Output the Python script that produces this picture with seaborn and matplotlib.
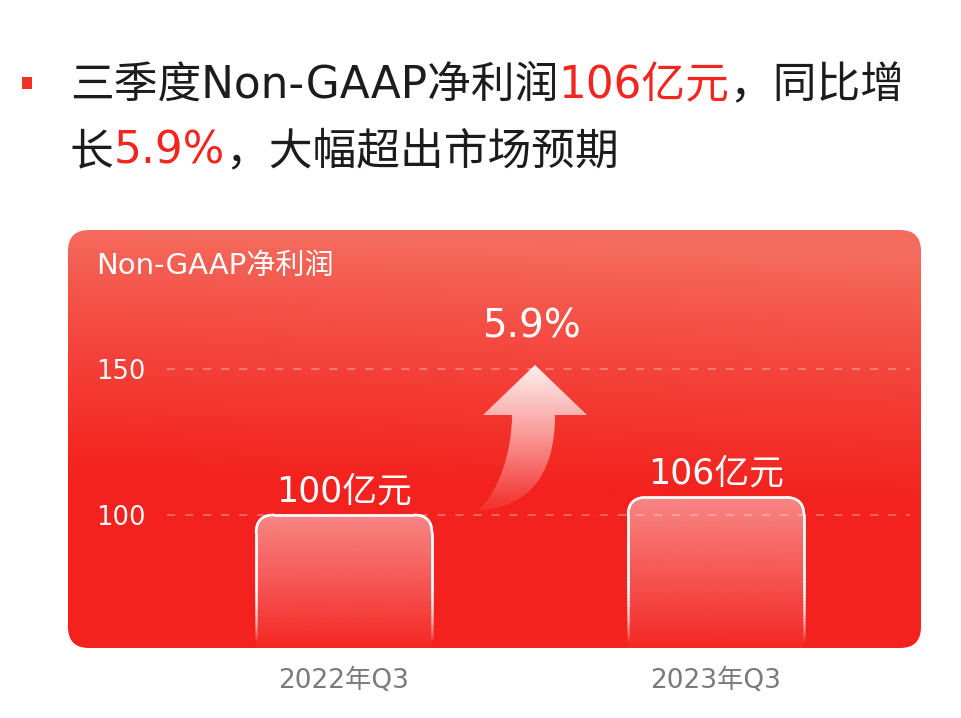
import numpy as np
import pandas as pd
import matplotlib
matplotlib.use("Agg")
import matplotlib.pyplot as plt
import seaborn as sns
from matplotlib.patches import FancyBboxPatch, PathPatch, Rectangle
from matplotlib.path import Path
from matplotlib.collections import LineCollection
from matplotlib.transforms import IdentityTransform

# ---------------- data ----------------
quarters = ["2022年Q3", "2023年Q3"]
profits = [100, 106]
value_labels = ["100亿元", "106亿元"]
y_ticks = [100, 150]
growth_label = "5.9%"
panel_title = "Non-GAAP净利润"
headline_1 = [("三季度Non-GAAP净利润", "dark"), ("106亿元", "red"), ("，同比增", "dark")]
headline_2 = [("长", "dark"), ("5.9%", "red"), ("，大幅超出市场预期", "dark")]

# ---------------- style ----------------
W, H, DPI = 962, 718, 100
FAM = ["DejaVu Sans", "Noto Sans CJK SC"]
sns.set_style("white")
plt.rcParams["font.family"] = FAM
DARK = "#1c1c1c"
RED = "#f2261e"
COLORS = {"dark": DARK, "red": RED}

fig = plt.figure(figsize=(W / DPI, H / DPI), dpi=DPI)
fig.patch.set_facecolor("white")

# panel geometry (pixels)
PL, PR, PT, PB = 68, 921, 230, 648
rect = [PL / W, 1 - PB / H, (PR - PL) / W, (PB - PT) / H]

# ---------------- background panel with gradient ----------------
bg = fig.add_axes(rect, zorder=0)
bg.set_axis_off()
ny, nx = 300, 300
yy, xx = np.mgrid[0:1:ny * 1j, 0:1:nx * 1j]
s = np.clip((yy - 0.07 * xx) / 0.58, 0, 1) ** 0.85
top_c = np.array([245, 108, 94]) / 255
bot_c = np.array([243, 34, 30]) / 255
img = top_c[None, None, :] * (1 - s[..., None]) + bot_c[None, None, :] * s[..., None]
im = bg.imshow(img, extent=(0, 1, 0, 1), origin="upper", aspect="auto",
               interpolation="bilinear")
bg.set_xlim(0, 1)
bg.set_ylim(0, 1)
panel = FancyBboxPatch((PL / DPI, (H - PB) / DPI), (PR - PL) / DPI, (PB - PT) / DPI,
                       boxstyle="round,pad=0,rounding_size=0.21",
                       transform=fig.dpi_scale_trans, facecolor="none", edgecolor="none")
im.set_clip_path(panel)

# ---------------- main axes ----------------
ax = fig.add_axes(rect, zorder=1)
ax.patch.set_alpha(0)
df = pd.DataFrame({"quarter": quarters, "profit": profits})
sns.barplot(data=df, x="quarter", y="profit", ax=ax, width=0.473, color="white")
XLIM = (-0.742, 1.551)
YLIM = (54.4, 197.6)
ax.set_xlim(*XLIM)
ax.set_ylim(*YLIM)
for sp in ax.spines.values():
    sp.set_visible(False)
ax.set_xlabel("")
ax.set_ylabel("")

sx = ax.transData.transform((1, 0))[0] - ax.transData.transform((0, 0))[0]
sy = ax.transData.transform((0, 1))[1] - ax.transData.transform((0, 0))[1]

# gridlines
for t in y_ticks:
    ax.axhline(t, xmin=(167 - PL) / (PR - PL), xmax=(910 - PL) / (PR - PL),
               color="white", alpha=0.38, lw=1.1, ls=(0, (5.3, 6.5)), zorder=1.5)

# ticks
ax.set_yticks(y_ticks)
ax.set_yticklabels([str(t) for t in y_ticks])
ax.tick_params(axis="y", length=0, pad=-20.2, labelcolor="white", labelsize=18.5)
for lab in ax.get_yticklabels():
    lab.set_horizontalalignment("left")
ax.tick_params(axis="x", length=0, pad=14.5, labelcolor="#7a7a7a", labelsize=19)


def resample(poly, step=1.5):
    out = [poly[0]]
    for a, b in zip(poly[:-1], poly[1:]):
        d = np.hypot(*(b - a))
        k = max(1, int(np.ceil(d / step)))
        for j in range(1, k + 1):
            out.append(a + (b - a) * j / k)
    return np.array(out)


# rounded bars with gradient fill and fading outline
bottom_disp = ax.transData.transform((0, YLIM[0]))[1]
for bar, lab in zip(list(ax.patches), value_labels):
    x0, w, h = bar.get_x(), bar.get_width(), bar.get_height()
    bar.set_visible(False)
    ybase = YLIM[0] - 20
    rb = FancyBboxPatch((x0, ybase), w, h - ybase,
                        boxstyle=f"round,pad=0,rounding_size={18 / sx}",
                        mutation_aspect=sx / sy, facecolor="none", edgecolor="none",
                        transform=ax.transData, zorder=2)
    ax.add_patch(rb)
    n = 200
    grad = np.ones((n, 1, 4))
    grad[:, 0, 3] = np.linspace(0.46, 0.03, n)
    gi = ax.imshow(grad, extent=(x0, x0 + w, YLIM[0], h), origin="upper",
                   aspect="auto", zorder=2, interpolation="bilinear")
    gi.set_clip_path(rb)
    polys = rb.get_path().to_polygons(transform=ax.transData, closed_only=False)
    for poly in polys:
        poly = resample(np.asarray(poly))
        segs = np.stack([poly[:-1], poly[1:]], axis=1)
        ymid = segs[:, :, 1].mean(axis=1)
        alpha = np.clip((ymid - (bottom_disp + 6)) / 60, 0, 1) * 0.95
        cols = np.zeros((len(segs), 4))
        cols[:, :3] = 1
        cols[:, 3] = alpha
        lc = LineCollection(segs, colors=cols, linewidths=1.8, capstyle="round",
                            transform=IdentityTransform(), zorder=3)
        ax.add_collection(lc, autolim=False)
    ax.annotate(lab, xy=(x0 + w / 2, h), xytext=(0, 10), textcoords="offset points",
                ha="center", va="baseline", fontsize=25, color="white", zorder=4)

# growth arrow (decoration), defined in pixel space and converted to data
inv = ax.transData.inverted()
def P(px, py):
    return inv.transform((px, H - py))

verts = [P(535, 365), P(587, 415), P(555, 415),
         P(555, 480), P(525, 507), P(478, 511),
         P(500, 490), P(512, 450), P(512, 415),
         P(483, 415), P(535, 365)]
codes = [Path.MOVETO, Path.LINETO, Path.LINETO,
         Path.CURVE4, Path.CURVE4, Path.CURVE4,
         Path.CURVE4, Path.CURVE4, Path.CURVE4,
         Path.LINETO, Path.CLOSEPOLY]
arrow = PathPatch(Path(verts, codes), facecolor="none", edgecolor="none",
                  transform=ax.transData, zorder=2)
ax.add_patch(arrow)
ag = np.ones((200, 1, 4))
ag[:, 0, 3] = np.linspace(0.93, 0.05, 200)
a_top = P(0, 363)[1]
a_bot = P(0, 513)[1]
ai = ax.imshow(ag, extent=(P(470, 0)[0], P(600, 0)[0], a_bot, a_top), origin="upper",
               aspect="auto", zorder=2, interpolation="bilinear")
ai.set_clip_path(arrow)

ax.set_xlim(*XLIM)
ax.set_ylim(*YLIM)

# ---------------- texts ----------------
fig.text(96 / W, 1 - 266 / H, panel_title, color="white", fontsize=21,
         ha="left", va="center")
fig.text(531 / W, 1 - 327 / H, growth_label, color="white", fontsize=28,
         ha="center", va="center")

# headline with coloured segments
fig.add_artist(Rectangle((22 / W, 1 - 89 / H), 10 / W, 12 / H,
                         transform=fig.transFigure, facecolor="#ef3426", edgecolor="none"))
renderer = fig.canvas.get_renderer()
def draw_line(x_px, base_px, segments, size):
    x = x_px
    for txt, c in segments:
        t = fig.text(x / W, 1 - base_px / H, txt, color=COLORS[c], fontsize=size,
                     ha="left", va="baseline")
        bb = t.get_window_extent(renderer)
        x = bb.x1
draw_line(70, 98, headline_1, 31.5)
draw_line(70, 164, headline_2, 31.5)

fig.savefig("out.png", dpi=DPI, facecolor="white")
